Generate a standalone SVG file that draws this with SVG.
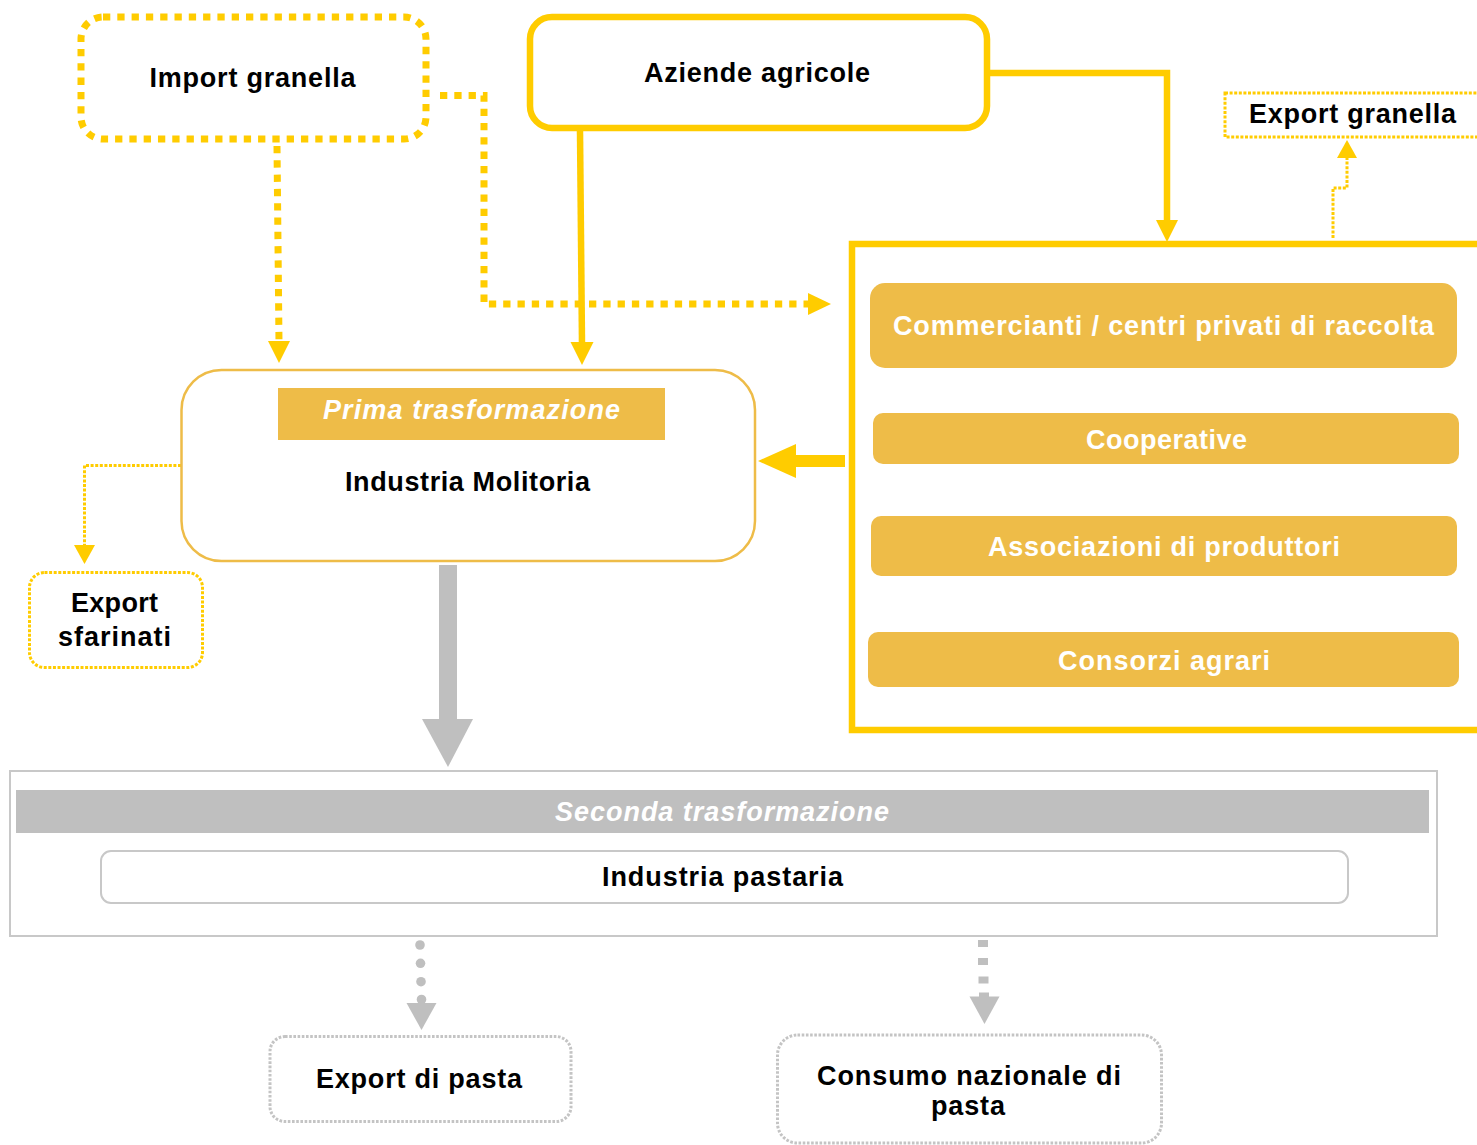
<svg xmlns="http://www.w3.org/2000/svg" width="1477" height="1145" viewBox="0 0 1477 1145">
  <style>
    text { font-family: "Liberation Sans", Arial, sans-serif; font-weight: bold; font-size: 27px; text-anchor: middle; }
    .dark { fill: #000000; }
    .light { fill: #FFFFFF; }
    .ital { font-style: italic; }
    .ybox-dash { fill: #FFFFFF; stroke: #FFCC00; stroke-width: 7; stroke-dasharray: 7.3 7; }
    .ybox-solid { fill: #FFFFFF; stroke: #FFCC00; stroke-width: 6.5; }
    .ybox-dot { fill: #FFFFFF; stroke: #FFCC00; stroke-width: 3; stroke-dasharray: 3 1.6; }
    .gbox-dot { fill: #FFFFFF; stroke: #C4C4C4; stroke-width: 3; stroke-dasharray: 2.6 1.6; }
    .obar { fill: #EEBC48; }
    .gbar { fill: #BFBFBF; }
    .y-solid { fill: none; stroke: #FFCC00; stroke-width: 6.5; }
    .y-dash { fill: none; stroke: #FFCC00; stroke-width: 7; stroke-dasharray: 7.3 7; }
    .y-dot { fill: none; stroke: #FFCC00; stroke-width: 3; stroke-dasharray: 3 1.6; }
    .yhead { fill: #FFCC00; }
    .ghead { fill: #BFBFBF; }
  </style>

  <!-- connectors -->
  <g id="connectors">
    <!-- Import granella -> Industria Molitoria -->
    <path class="y-dash" d="M277,146 L279,342"/>
    <polygon class="yhead" points="268,341 290,341 279,363"/>
    <!-- Import granella -> collection network -->
    <path class="y-dash" d="M440,95.5 H484 V304 H809"/>
    <polygon class="yhead" points="808,293 808,315 831,304"/>
    <!-- Aziende agricole -> Industria Molitoria -->
    <path class="y-solid" d="M580,131 L582,344"/>
    <polygon class="yhead" points="570.5,342 593.5,342 582,365"/>
    <!-- Aziende agricole -> collection network -->
    <path class="y-solid" d="M987,73 H1167 V222"/>
    <polygon class="yhead" points="1156,220 1178,220 1167,242"/>
    <!-- collection network -> Export granella -->
    <path class="y-dot" d="M1333,238 V188 H1347 V158"/>
    <polygon class="yhead" points="1337,158 1357,158 1347,140"/>
    <!-- collection network -> Industria Molitoria -->
    <rect x="794" y="455" width="51" height="12" fill="#FFCC00"/>
    <polygon class="yhead" points="796,444 796,478 758,461"/>
    <!-- Industria Molitoria -> Export sfarinati -->
    <path class="y-dot" d="M181,465.5 H84.5 V546"/>
    <polygon class="yhead" points="74,545 95,545 84.5,564"/>
    <!-- Industria Molitoria -> Seconda trasformazione -->
    <rect class="ghead" x="439" y="565" width="18" height="156"/>
    <polygon class="ghead" points="422,719 473,719 448,767"/>
    <!-- Industria pastaria -> Export di pasta -->
    <g class="ghead">
      <circle cx="420" cy="945" r="4.8"/>
      <circle cx="420.5" cy="963.3" r="4.8"/>
      <circle cx="421" cy="981.7" r="4.8"/>
      <circle cx="421.5" cy="999.5" r="4.8"/>
    </g>
    <polygon class="ghead" points="406.5,1003 436.5,1003 421.5,1030"/>
    <!-- Industria pastaria -> Consumo nazionale -->
    <g class="ghead">
      <rect x="978" y="940" width="10" height="7"/>
      <rect x="978" y="958" width="10" height="7"/>
      <rect x="978.5" y="976.5" width="10" height="7"/>
      <rect x="979" y="992.5" width="10" height="5"/>
    </g>
    <polygon class="ghead" points="969.5,996.5 999.5,996.5 984.5,1024"/>
  </g>

  <!-- Import granella -->
  <g id="import-granella">
    <rect class="ybox-dash" x="81" y="17" width="345" height="122" rx="22"/>
    <text class="dark" x="252.5" y="87" textLength="206">Import granella</text>
  </g>

  <!-- Aziende agricole -->
  <g id="aziende-agricole">
    <rect class="ybox-solid" x="530" y="17" width="457" height="111" rx="22"/>
    <text class="dark" x="757" y="82" textLength="226">Aziende agricole</text>
  </g>

  <!-- Export granella -->
  <g id="export-granella">
    <rect class="ybox-dot" x="1225" y="93" width="300" height="44"/>
    <text class="dark" x="1352.5" y="122.5" textLength="207">Export granella</text>
  </g>

  <!-- collection network frame and its members -->
  <g id="collection-network">
    <path class="y-solid" d="M1480,244 H852 V730 H1480" stroke-width="6"/>
    <g id="commercianti">
      <rect class="obar" x="870" y="283" width="587" height="85" rx="15"/>
      <text class="light" x="1163.5" y="335" textLength="541">Commercianti / centri privati di raccolta</text>
    </g>
    <g id="cooperative">
      <rect class="obar" x="873" y="413" width="586" height="51" rx="10"/>
      <text class="light" x="1166.5" y="449" textLength="161">Cooperative</text>
    </g>
    <g id="associazioni">
      <rect class="obar" x="871" y="516" width="586" height="60" rx="10"/>
      <text class="light" x="1164" y="555.5" textLength="352">Associazioni di produttori</text>
    </g>
    <g id="consorzi">
      <rect class="obar" x="868" y="632" width="591" height="55" rx="10"/>
      <text class="light" x="1164" y="670" textLength="212">Consorzi agrari</text>
    </g>
  </g>

  <!-- Prima trasformazione: Industria Molitoria -->
  <g id="industria-molitoria">
    <rect x="181.5" y="370" width="573.5" height="191" rx="40" fill="#FFFFFF" stroke="#EEBC48" stroke-width="2.5"/>
    <rect class="obar" x="278" y="388" width="387" height="52"/>
    <text class="light ital" x="471.5" y="419" textLength="297">Prima trasformazione</text>
    <text class="dark" x="467.5" y="490.5" textLength="245">Industria Molitoria</text>
  </g>

  <!-- Export sfarinati -->
  <g id="export-sfarinati">
    <rect class="ybox-dot" x="29.5" y="572.5" width="173" height="95" rx="15"/>
    <text class="dark" x="114.5" y="612" textLength="87">Export</text>
    <text class="dark" x="114.5" y="646" textLength="113">sfarinati</text>
  </g>

  <!-- Seconda trasformazione: Industria pastaria -->
  <g id="industria-pastaria">
    <rect x="10" y="771" width="1427" height="165" fill="#FFFFFF" stroke="#C8C8C8" stroke-width="2"/>
    <rect class="gbar" x="16" y="790" width="1413" height="43"/>
    <text class="light ital" x="722" y="820.5" textLength="334">Seconda trasformazione</text>
    <rect x="101" y="851" width="1247" height="52" rx="10" fill="#FFFFFF" stroke="#C8C8C8" stroke-width="2"/>
    <text class="dark" x="722.5" y="886" textLength="241">Industria pastaria</text>
  </g>

  <!-- Export di pasta -->
  <g id="export-pasta">
    <rect class="gbox-dot" x="270" y="1036.5" width="301" height="85" rx="15"/>
    <text class="dark" x="419" y="1087.5" textLength="206">Export di pasta</text>
  </g>

  <!-- Consumo nazionale di pasta -->
  <g id="consumo-nazionale">
    <rect class="gbox-dot" x="777.5" y="1035" width="384" height="108" rx="20"/>
    <text class="dark" x="969" y="1085" textLength="304">Consumo nazionale di</text>
    <text class="dark" x="968" y="1115" textLength="74">pasta</text>
  </g>
</svg>
